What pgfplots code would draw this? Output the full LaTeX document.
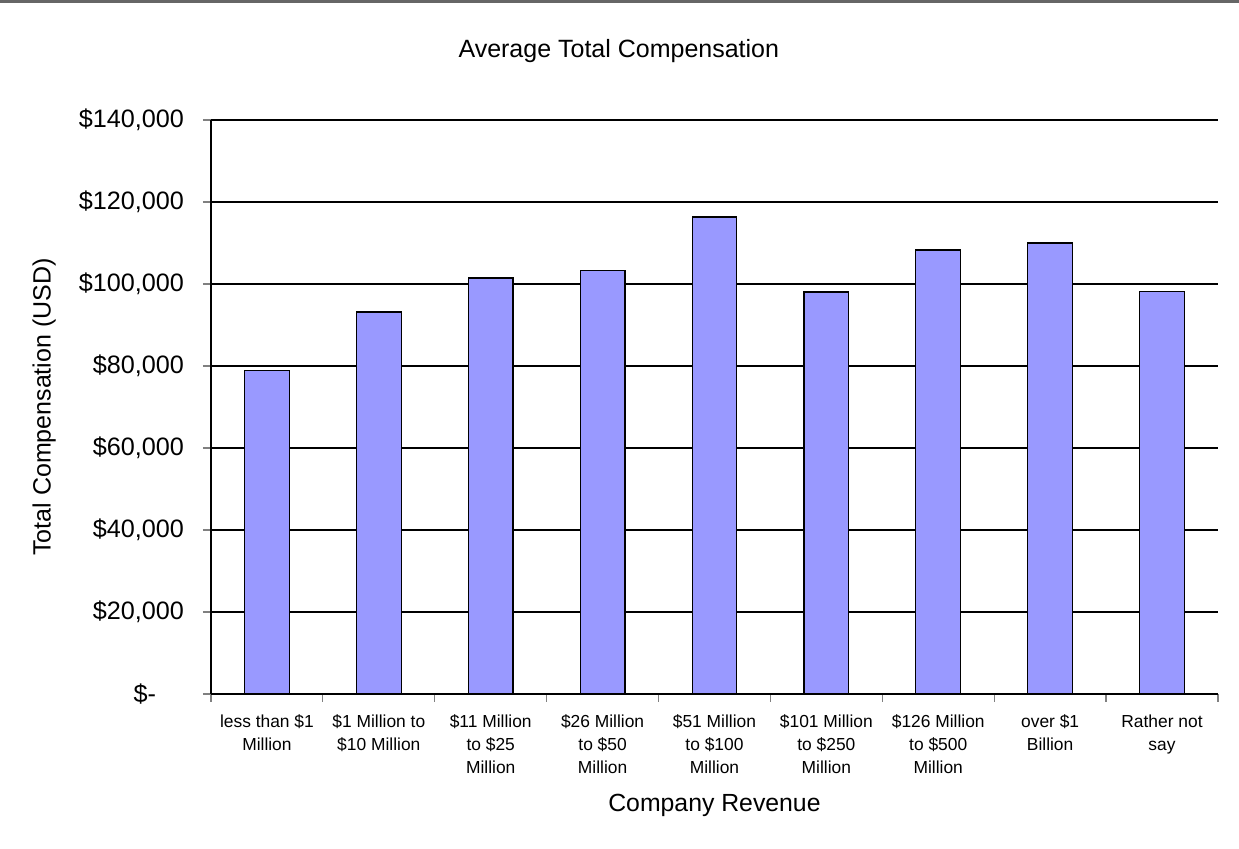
\documentclass[border=0pt]{standalone}
\usepackage{fontspec}
\setmainfont{Liberation Sans}
\usepackage{pgfplots}
\pgfplotsset{compat=1.18}
\definecolor{barblue}{HTML}{9999FF}

\begin{document}
\begin{tikzpicture}
    \path[use as bounding box] (-105.5pt,-77.5pt) rectangle (514pt,347pt);
    \draw[line width=1.2pt, black!60] (-105.5pt,346.2pt) -- (514pt,346.2pt);
    \begin{axis}[
        at={(0,0)}, anchor=south west,
        scale only axis,
        width=503.5pt,
        height=287pt,
        ybar,
        bar width=0.4,
        xmin=-0.5, xmax=8.5,
        ymin=0, ymax=140000,
        scaled y ticks=false,
        axis lines*=left,
        axis line style={line width=0.6pt},
        xtick={0,...,8},
        xticklabels={
            less than \$1\\Million,
            \$1 Million to\\\$10 Million,
            \$11 Million\\to \$25\\Million,
            \$26 Million\\to \$50\\Million,
            \$51 Million\\to \$100\\Million,
            \$101 Million\\to \$250\\Million,
            \$126 Million\\to \$500\\Million,
            over \$1\\Billion,
            Rather not\\say},
        major x tick style={draw=none},
        minor xtick={-0.5,0.5,...,8.5},
        minor x tick style={line width=0.6pt},
        minor tick length=4pt,
        ytick={0,20000,...,140000},
        yticklabels={{\$-\rule{14pt}{0pt}},{\$20,000},{\$40,000},{\$60,000},{\$80,000},{\$100,000},{\$120,000},{\$140,000}},
        tick align=outside,
        major tick length=4pt,
        ytick style={line width=0.6pt},
        ymajorgrids,
        grid style={black, line width=0.6pt},
        xticklabel style={align=center, font=\fontsize{8.7}{11.5}\selectfont, yshift=-3pt},
        yticklabel style={font=\fontsize{12.6}{14}\selectfont, xshift=-6pt},
        title={Average Total Compensation},
        title style={font=\fontsize{12.5}{14}\selectfont, at={(axis description cs:0.405,1.0993)}, anchor=center},
        xlabel={Company Revenue},
        xlabel style={font=\fontsize{12.4}{14}\selectfont, at={(axis description cs:0.5,0)}, anchor=center, yshift=-55.5pt},
        ylabel={Total Compensation (USD)},
        ylabel style={font=\fontsize{12.5}{14}\selectfont, at={(axis description cs:-0.1658,0.5)}, anchor=center},
    ]
        \addplot[fill=barblue, draw=black, line width=0.6pt] coordinates {
            (0,78900)
            (1,93170)
            (2,101460)
            (3,103240)
            (4,116340)
            (5,98050)
            (6,108290)
            (7,110000)
            (8,98200)
        };
    \end{axis}
\end{tikzpicture}
\end{document}
